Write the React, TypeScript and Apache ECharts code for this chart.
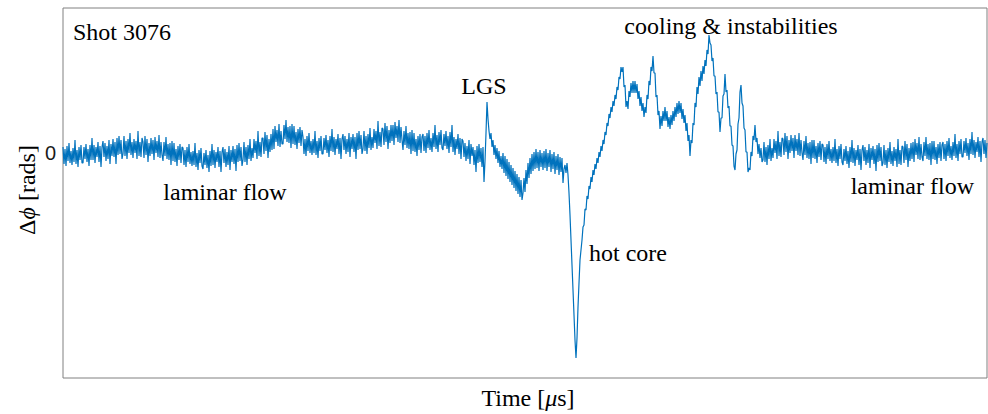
import React, { useEffect, useRef } from "react";
import * as echarts from "echarts";

// Phase shift, one sample per time step, arbitrary units (0 = undisturbed baseline)
const laminarLeft = [
  6, -11, 4, -13, 7, -8, 10, -10, 2, -12, 5, -9, 13, -11, 3, -14, 6, -7, 8, -10,
  -10, 6, -6, 9, -9, 4, -13, 8, -7, 15, -7, 8, -10, 6, -4, 11, -9, 7, -14, 6,
  12, -4, 10, -8, 7, -6, 13, -11, 9, -3, 14, -4, 11, -11, 15, -2, 17, -1, 13, -6,
  -1, 17, -3, 12, -6, 14, 0, 20, -2, 11, -5, 14, 0, 12, -6, 22, -3, 11, -4, 15,
  11, -5, 17, -2, 14, -9, 10, -3, 15, -1, 13, -7, 16, 0, 12, -4, 18, -5, 11, -2,
  -8, 11, -3, 16, -6, 9, -7, 10, -12, 12, -8, 10, -9, 4, -13, 7, -7, 9, -10, 6,
  5, -12, 3, -14, 6, -9, 9, -11, 1, -13, 2, -12, 10, -14, 0, -17, 3, -10, 5, -13,
  -16, 0, -12, 3, -15, -2, -19, 2, -13, 9, -12, 3, -15, 1, -9, 6, -14, 2, -19, 1,
  6, -10, 4, -14, 1, -12, 7, -17, 3, -9, 7, -11, 4, -18, 8, -9, 10, -8, 6, -13,
  -7, 11, -9, 6, -12, 8, -6, 14, -8, 5, -5, 14, 0, 12, -6, 22, -3, 11, -4, 15,
  15, -1, 21, 2, 18, -5, 14, 1, 19, 3, 24, 4, 27, 11, 23, 7, 29, 6, 22, 9,
  9, 28, 14, 33, 11, 26, 10, 27, 5, 29, 9, 27, 8, 21, 4, 24, 10, 26, 7, 23,
  16, -1, 14, -3, 17, 2, 20, 0, 12, -2, 14, 0, 22, -2, 12, -5, 15, 2, 17, -1,
  -1, 15, 3, 18, 0, 13, -4, 17, 2, 24, 1, 16, -2, 14, 4, 19, -1, 15, -6, 14,
  19, 3, 17, -1, 14, 1, 20, -4, 16, 4, 19, 1, 16, -6, 20, 3, 22, 4, 18, -1,
  4, 22, 2, 17, -1, 19, 5, 25, 3, 16, 5, 24, 10, 22, 4, 32, 7, 21, 6, 25,
  24, 8, 30, 11, 27, 4, 23, 10, 28, 12, 28, 8, 31, 15, 27, 11, 33, 10, 26, 13,
  3, 22, 8, 27, 5, 20, 4, 21, -1, 23, 2, 20, 1, 14, -3, 17, 3, 19, 0, 16,
  19, 2, 17, 0, 20, 5, 23, 3, 15, 1, 20, 6, 28, 4, 18, 1, 21, 8, 23, 5,
  3, 19, 7, 22, 4, 17, 0, 21, 6, 28, 1, 16, -2, 14, 4, 19, -1, 15, -6, 14,
  12, -4, 10, -8, 7, -6, 13, -11, 9, -3, 6, -12, 3, -19, 7, -10, 9, -9, 5, -14,
];
const lgsAndHotCore = [
  6, -29, -8, 20, 51, 34, 22, 14, 20, 6, 13, -2, 8, -6, 5, -10, 2, -14, -3, -16,
  0, -20, -3, -23, -6, -26, -9, -29, -12, -32, -15, -35, -18, -38, -21, -41, -24, -44, -27, -47,
  -40, -25, -39, -17, -31, -10, -25, -5, -21, -1, -18, 1, -16, 4, -15, 1, -18, 3, -14, 0,
  -17, 2, -15, 4, -18, 0, -14, 3, -19, -1, -16, 1, -21, -3, -17, -1, -22, -4, -19, -5,
  -30, -16, -12, -20, -10, -22, -40, -62, -87, -112, -137, -162, -187, -205, -185, -154, -130, -107, -97, -87,
  -74, -72, -56, -57, -43, -46, -33, -36, -24, -29, -17, -22, -11, -16, -5, -10, 1, -4, 7, 2,
  13, 9, 21, 18, 30, 27, 39, 35, 46, 41, 52, 47, 58, 54, 66, 63, 76, 74, 86, 81,
];
const coolingInstabilities = [
  86, 66, 68, 46, 52, 44, 62, 56, 70, 60, 72, 60, 72, 60, 69, 54, 62, 47, 56, 42,
  50, 36, 46, 40, 58, 54, 72, 68, 86, 82, 97, 80, 80, 56, 58, 38, 42, 24, 37, 27,
  42, 32, 46, 32, 42, 26, 36, 24, 38, 28, 42, 32, 46, 36, 50, 39, 52, 40, 50, 34,
  44, 30, 38, 22, 30, 12, 18, -3, 13, 10, 30, 28, 50, 46, 66, 59, 76, 67, 82, 72,
  87, 79, 93, 87, 103, 99, 118, 110, 108, 92, 95, 77, 77, 59, 61, 41, 41, 21, 35, 35,
  57, 59, 79, 61, 63, 45, 47, 27, 27, 8, 7, -13, -17, -1, 3, 29, 35, 61, 68, 50,
  47, 25, 23, 1, 1, -19, -15, -17, 1, -3, 17, 13, 28, 11, 15, -1, 9, -5, 5, -9,
];
const laminarRight = [
  -7, 11, -9, 6, -12, 8, -6, 14, -8, 5, -5, 14, 0, 12, -6, 22, -3, 11, -4, 15,
  14, -2, 20, 1, 17, -6, 13, 0, 18, 2, 15, -5, 18, 2, 14, -2, 20, -3, 13, 0,
  -7, 12, -2, 17, -5, 10, -6, 11, -11, 13, -5, 13, -6, 7, -10, 10, -4, 12, -7, 9,
  8, -9, 6, -11, 9, -6, 12, -8, 4, -10, 6, -8, 14, -10, 4, -13, 7, -6, 9, -9,
  -12, 4, -8, 7, -11, 2, -15, 6, -9, 13, -10, 5, -13, 3, -7, 8, -12, 4, -17, 3,
  8, -8, 6, -12, 3, -10, 9, -15, 5, -7, 7, -11, 4, -18, 8, -9, 10, -8, 6, -13,
  -10, 8, -12, 3, -15, 5, -9, 11, -11, 2, -13, 6, -8, 4, -14, 14, -11, 3, -12, 7,
  6, -10, 12, -7, 9, -14, 5, -8, 10, -6, 11, -9, 14, -2, 10, -6, 16, -7, 9, -4,
  -8, 11, -3, 16, -6, 9, -7, 10, -12, 12, -6, 12, -7, 6, -11, 9, -5, 11, -8, 8,
  11, -6, 9, -8, 12, -3, 15, -5, 7, -7, 11, -3, 19, -5, 9, -8, 12, -1, 14, -4,
  -4, 12, 0, 15, -3, 10, -7, 14, -1, 21, -2, 13, -5, 11, 1, 16, -4, 12, -9, 11,
  15, -1, 13, -5, 10,
];

const signal = [...laminarLeft, ...lgsAndHotCore, ...coolingInstabilities, ...laminarRight];

const yMin = -225;
const yMax = 145;
const yTicks = [0];

const SERIF = "Liberation Serif";

const annotations = [
  { text: "Shot 3076", x: 73, y: 32, align: "left" },
  { text: "laminar flow", x: 225, y: 192, align: "center" },
  { text: "LGS", x: 484, y: 86, align: "center" },
  { text: "hot core", x: 589, y: 253, align: "left" },
  { text: "cooling & instabilities", x: 731, y: 26, align: "center" },
  { text: "laminar flow", x: 974, y: 186, align: "right" },
];

export default function App() {
  const ref = useRef<HTMLDivElement>(null);
  useEffect(() => {
    const chart = echarts.init(ref.current as HTMLDivElement, null, { renderer: "svg" });
    const option: any = {
      animation: false,
      backgroundColor: "#ffffff",
      textStyle: { fontFamily: SERIF },
      grid: {
        left: 63,
        right: 1,
        top: 8,
        bottom: 36,
        show: true,
        borderColor: "#808080",
        borderWidth: 1,
        backgroundColor: "transparent",
      },
      xAxis: {
        type: "value",
        min: 0,
        max: signal.length - 1,
        axisLine: { show: false },
        axisTick: { show: false },
        axisLabel: { show: false },
        splitLine: { show: false },
      },
      yAxis: {
        type: "value",
        min: yMin,
        max: yMax,
        interval: 225,
        axisLine: { show: false },
        axisTick: { show: false },
        splitLine: { show: false },
        axisLabel: {
          margin: 7,
          fontFamily: "Liberation Sans",
          fontSize: 20,
          color: "#1a1a1a",
          formatter: (v: number) => (yTicks.includes(v) ? String(v) : ""),
        },
      },
      series: [
        {
          type: "line",
          data: signal.map((v, i) => [i, v]),
          showSymbol: false,
          symbol: "none",
          clip: true,
          lineStyle: { color: "#0072BD", width: 1.2 },
        },
      ],
      graphic: [
        ...annotations.map((a) => ({
          type: "text",
          x: a.x,
          y: a.y,
          silent: true,
          style: {
            text: a.text,
            fontFamily: SERIF,
            fontSize: 24,
            fill: "#000000",
            align: a.align,
            verticalAlign: "middle",
          },
        })),
        {
          type: "text",
          x: 528,
          y: 398,
          silent: true,
          style: {
            text: "{n|Time [}{i|μ}{n|s]}",
            fontFamily: SERIF,
            fontSize: 24,
            align: "center",
            verticalAlign: "middle",
            rich: {
              n: { fontFamily: SERIF, fontSize: 24, fill: "#000000" },
              i: { fontFamily: SERIF, fontSize: 24, fontStyle: "italic", fill: "#000000" },
            },
          },
        },
        {
          type: "text",
          x: 27,
          y: 190,
          rotation: Math.PI / 2,
          silent: true,
          style: {
            text: "{n|Δ}{i|ϕ}{n| [rads]}",
            fontFamily: SERIF,
            fontSize: 24,
            align: "center",
            verticalAlign: "middle",
            rich: {
              n: { fontFamily: SERIF, fontSize: 24, fill: "#000000" },
              i: { fontFamily: SERIF, fontSize: 24, fontStyle: "italic", fill: "#000000" },
            },
          },
        },
      ],
    };
    chart.setOption(option);
    return () => chart.dispose();
  }, []);
  return (
    <div
      ref={ref}
      style={{ position: "absolute", left: 0, top: 0, width: 988, height: 414 }}
    />
  );
}
